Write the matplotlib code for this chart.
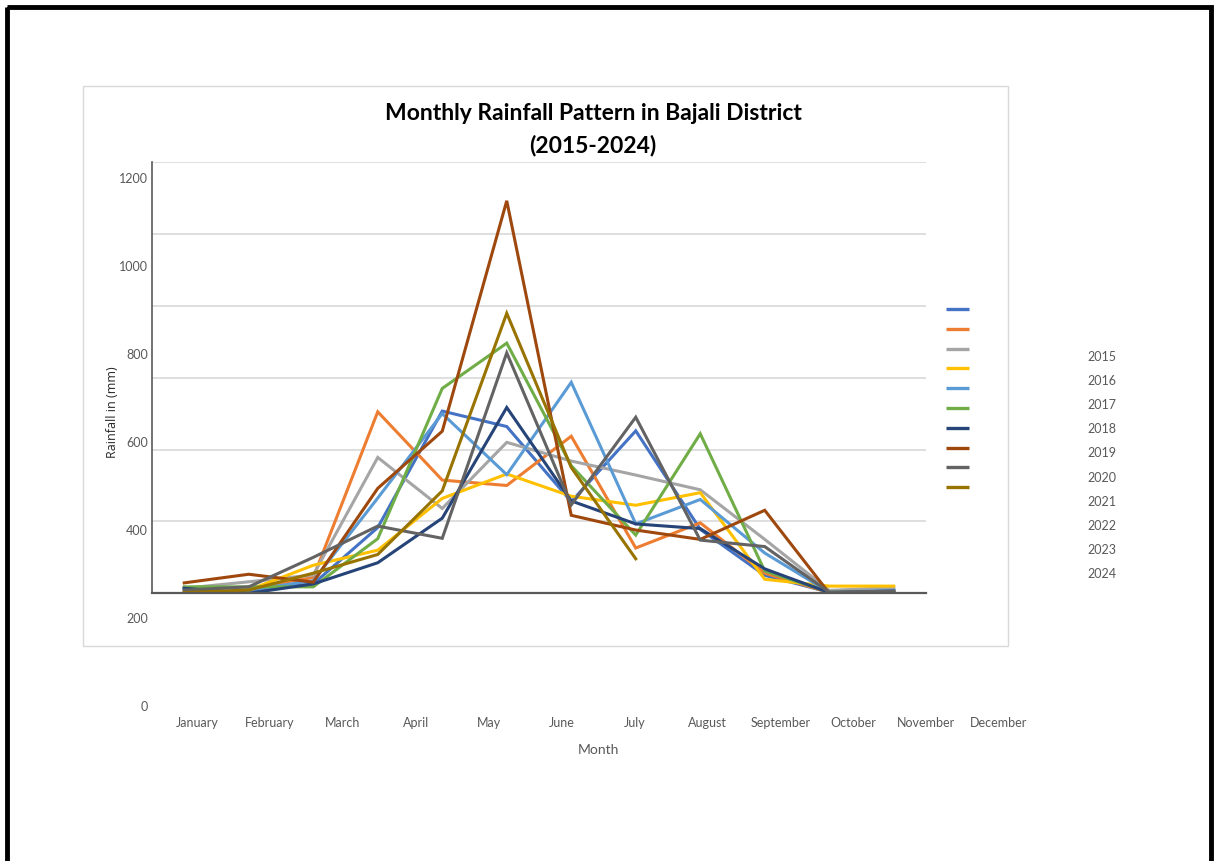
import matplotlib.pyplot as plt
from matplotlib.patches import Rectangle

plt.rcParams['font.family'] = ['Lato', 'DejaVu Sans']

W, H = 1217, 861

months = ['January', 'February', 'March', 'April', 'May', 'June', 'July',
          'August', 'September', 'October', 'November', 'December']
years = ['2015', '2016', '2017', '2018', '2019', '2020', '2021', '2022', '2023', '2024']
yticks = [0, 200, 400, 600, 800, 1000, 1200]

# monthly rainfall (mm), Jan..Dec
r2015 = [14, 8, 26, 183, 507, 464, 255, 452, 178, 50, 3, 10]
r2016 = [4, 14, 44, 505, 315, 300, 437, 126, 196, 56, 2, 2]
r2017 = [14, 32, 51, 378, 236, 420, 368, 329, 288, 150, 8, 16]
r2018 = [2, 9, 78, 120, 264, 332, 270, 245, 280, 39, 20, 20]
r2019 = [9, 9, 35, 265, 500, 330, 587, 193, 261, 112, 3, 8]
r2020 = [18, 18, 18, 152, 570, 696, 355, 162, 444, 62, 3, 3]
r2021 = [14, 0, 26, 85, 209, 517, 257, 193, 180, 68, 2, 6]
r2022 = [29, 53, 31, 292, 451, 1092, 217, 176, 150, 231, 0, 4]
r2023 = [9, 18, 100, 187, 153, 669, 246, 490, 148, 130, 3, 6]
r2024 = [2, 9, 56, 108, 285, 779, 350, 96]

series = [r2015, r2016, r2017, r2018, r2019, r2020, r2021, r2022, r2023, r2024]
colors = ['#4472C4', '#ED7D31', '#A5A5A5', '#FFC000', '#5B9BD5',
          '#70AD47', '#264478', '#9E480E', '#636363', '#997300']


def px_axes(x0, y0, x1, y1, **kw):
    # axes placed by pixel box (top-left origin)
    return fig.add_axes([x0 / W, (H - y1) / H, (x1 - x0) / W, (y1 - y0) / H], **kw)


fig = plt.figure(figsize=(W / 100, H / 100), dpi=100)

# background overlay in pixel coordinates
bg = px_axes(0, 0, W, H, zorder=0)
bg.set_xlim(0, W)
bg.set_ylim(H, 0)
bg.axis('off')
bg.add_patch(Rectangle((83, 86), 925, 560, fill=False, ec='#D9D9D9', lw=1))
bg.add_patch(Rectangle((7, 7), 1204, 870, fill=False, ec='black', lw=3.5, clip_on=False))

bg.text(593, 114, 'Monthly Rainfall Pattern in Bajali District', ha='center', va='center',
        fontsize=16.5, fontweight='bold', color='black')
bg.text(593, 146, '(2015-2024)', ha='center', va='center',
        fontsize=16.5, fontweight='bold', color='black')
bg.text(113, 412, 'Rainfall in (mm)', rotation=90, ha='center', va='center',
        fontsize=9, color='#262626', family=['Open Sans', 'DejaVu Sans'])
bg.text(598, 750, 'Month', ha='center', va='center', fontsize=10, color='#595959')

# legend swatches and the year list beside them
for i, c in enumerate(colors):
    yy = 309 + i * 19.8
    bg.plot([946, 969], [yy, yy], color=c, lw=2.4, solid_capstyle='butt')
for i, yr in enumerate(years):
    bg.text(1102, 357 + i * 24.1, yr, ha='center', va='center', fontsize=9, color='#595959')

# plotting area
ax = px_axes(152, 162, 926, 593.3, zorder=2)
ax.patch.set_alpha(0)
ax.set_xlim(-0.5, 11.5)
ax.set_ylim(0, 1200)
ax.set_yticks(yticks[1:])
ax.yaxis.grid(True, color='#D9D9D9', lw=1.2)
ax.set_axisbelow(True)
ax.tick_params(left=False, bottom=False, labelleft=False, labelbottom=False)
for s in ['top', 'right']:
    ax.spines[s].set_visible(False)
ax.spines['left'].set_color('#595959')
ax.spines['left'].set_linewidth(1.2)
ax.spines['bottom'].set_color('#595959')
ax.spines['bottom'].set_linewidth(1.6)

for vals, c in zip(series, colors):
    ax.plot(range(len(vals)), vals, color=c, lw=2.2, solid_joinstyle='miter')

# tick labels sit on their own scale
lab = px_axes(160.5, 178, 1035.5, 706, zorder=1)
lab.patch.set_alpha(0)
lab.set_xlim(-0.5, 11.5)
lab.set_ylim(0, 1200)
lab.set_xticks(range(12))
lab.set_xticklabels(months)
lab.set_yticks(yticks)
lab.tick_params(length=0, labelsize=9, labelcolor='#595959')
lab.tick_params(axis='y', pad=9)
lab.tick_params(axis='x', pad=8)
for s in lab.spines.values():
    s.set_visible(False)

fig.savefig('out.png', dpi=100)
